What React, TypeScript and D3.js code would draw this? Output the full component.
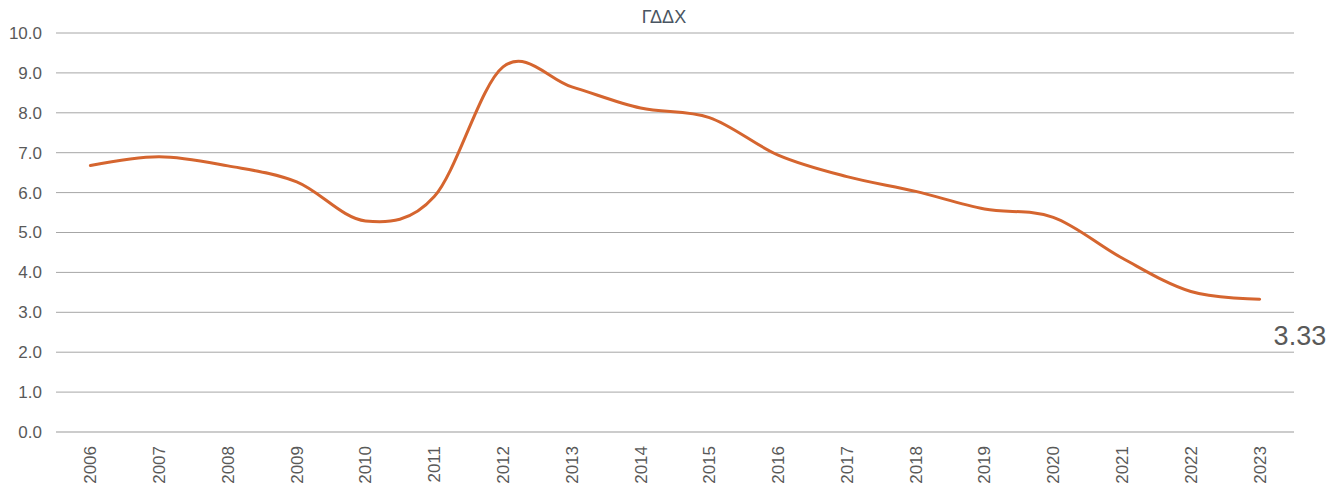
import React from "react";
import * as d3 from "d3";

const years = ["2006","2007","2008","2009","2010","2011","2012","2013","2014","2015","2016","2017","2018","2019","2020","2021","2022","2023"];
const values = [6.68, 6.9, 6.67, 6.27, 5.29, 5.9, 9.15, 8.65, 8.12, 7.88, 6.94, 6.4, 6.03, 5.59, 5.38, 4.36, 3.52, 3.33];
const yTicks = [0, 1, 2, 3, 4, 5, 6, 7, 8, 9, 10];
const title = "ΓΔΔΧ";
const lastLabel = "3.33";

const W = 1344, H = 484;
const left = 56, right = 1294, top = 33, bottom = 432;
const font = "'Liberation Sans', Arial, sans-serif";
const textColor = "#595959";

export default function App() {
  const x = d3.scaleBand<string>().domain(years).range([left, right]);
  const y = d3.scaleLinear().domain([0, 10]).range([bottom, top]);
  const line = d3
    .line<number>()
    .x((_, i) => (x(years[i]) as number) + x.bandwidth() / 2)
    .y((d) => y(d))
    .curve(d3.curveCatmullRom.alpha(0));
  const lastX = (x(years[years.length - 1]) as number) + x.bandwidth() / 2;
  return (
    <svg width={W} height={H} style={{ position: "absolute", left: 0, top: 0, background: "#fff" }}>
      <text x={664} y={23} textAnchor="middle" fontFamily={font} fontSize={18} fill="#4a5562">
        {title}
      </text>
      {yTicks.map((t) => (
        <g key={t}>
          <line x1={left} x2={right} y1={y(t)} y2={y(t)} stroke={t === 0 ? "#999" : "#a6a6a6"} strokeWidth={1} />
          <text x={42} y={y(t)} dy="0.35em" textAnchor="end" fontFamily={font} fontSize={17} fill={textColor}>
            {t.toFixed(1)}
          </text>
        </g>
      ))}
      {years.map((yr) => {
        const cx = (x(yr) as number) + x.bandwidth() / 2;
        return (
          <text
            key={yr}
            transform={`translate(${cx},${446}) rotate(-90)`}
            textAnchor="end"
            dy="0.35em"
            fontFamily={font}
            fontSize={17}
            fill={textColor}
          >
            {yr}
          </text>
        );
      })}
      <path d={line(values) || ""} fill="none" stroke="#d5652f" strokeWidth={3} strokeLinecap="round" />
      <text x={lastX + 14} y={345} fontFamily={font} fontSize={27} fill={textColor}>
        {lastLabel}
      </text>
    </svg>
  );
}
